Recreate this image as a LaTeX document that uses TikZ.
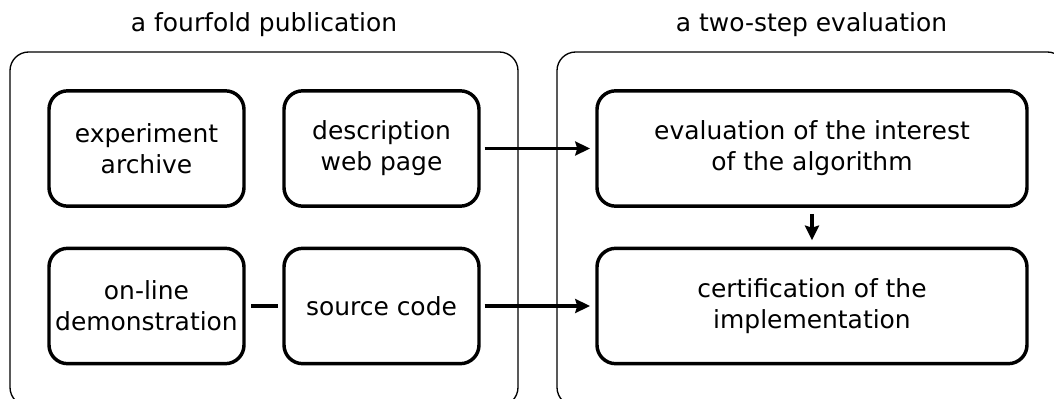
\documentclass[tikz,border=0pt]{standalone}
\usepackage{fontspec}
\setmainfont{DejaVu Sans}
\usetikzlibrary{arrows.meta}
\begin{document}
\begin{tikzpicture}[x=0.75pt,y=-0.75pt,
  box/.style={draw, line width=2.6pt, rounded corners=14pt, align=center, inner sep=0pt,
    minimum height=86.5pt, font=\fontsize{18.7}{23.3}\selectfont},
  smallbox/.style={box, minimum width=146.25pt},
  widebox/.style={box, minimum width=322.5pt},
  frame/.style={draw, line width=1pt, rounded corners=14pt},
  title/.style={anchor=base, font=\fontsize{18.7}{23.3}\selectfont},
  conn/.style={line width=2.5pt, -{Stealth[length=11pt,width=10.5pt,inset=1.5pt]}},
  link/.style={line width=2.5pt}
]
\useasboundingbox (0,0) rectangle (1054,399);
\clip (0,0) rectangle (1054,399);
\draw[frame] (10,52) rectangle (518,406);
\draw[frame] (557,52) rectangle (1066,406);
\node[title] (t1) at (264,32) {a fourfold publication};
\node[title] (t2) at (811.5,32) {a two-step evaluation};
\node[smallbox] (A) at (146.5,148.5) {experiment\\archive};
\node[smallbox] (B) at (381.5,148.5) {description\\web page};
\node[smallbox] (C) at (146.5,306) {on-line\\demonstration};
\node[smallbox] (D) at (381.5,306) {source code};
\node[widebox] (E) at (812,148.5) {evaluation of the interest\\of the algorithm};
\node[widebox] (F) at (812,306) {certification of the\\implementation};
\draw[conn, shorten <=3pt, shorten >=4pt] (B.east) -- (E.west);
\draw[conn, shorten <=3pt, shorten >=4pt] (D.east) -- (F.west);
\draw[conn, shorten <=4.5pt, shorten >=4.7pt] (E.south) -- (F.north);
\draw[link, shorten <=4pt, shorten >=3.2pt] (C.east) -- (D.west);
\end{tikzpicture}
\end{document}
